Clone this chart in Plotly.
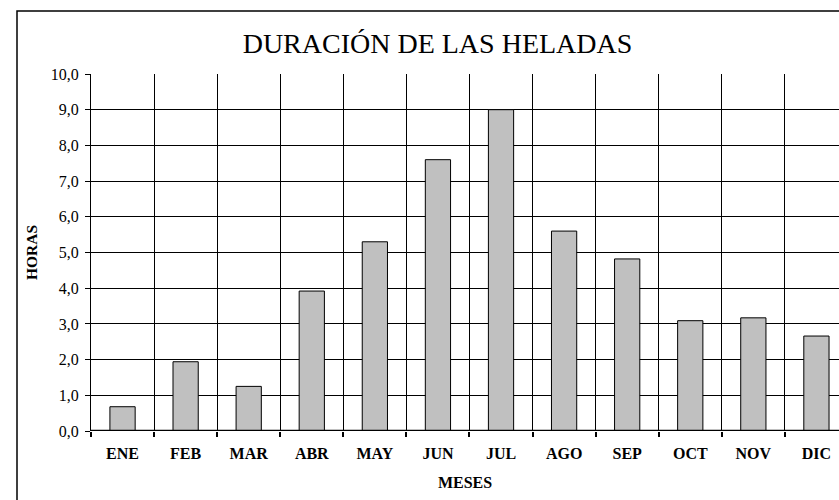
import plotly.graph_objects as go

months = ["ENE", "FEB", "MAR", "ABR", "MAY", "JUN", "JUL", "AGO", "SEP", "OCT", "NOV", "DIC"]
hours = [0.68, 1.94, 1.25, 3.92, 5.3, 7.6, 9.0, 5.6, 4.82, 3.09, 3.17, 2.66]
y_ticks = [0, 1, 2, 3, 4, 5, 6, 7, 8, 9, 10]

W, H = 839, 500
L, T, B = 91, 74, 69
pw = W - L
ph = H - T - B
cat_w = 63.08
x_end = -0.5 + pw / cat_w

xs = list(range(len(months)))

fig = go.Figure()
fig.add_trace(go.Bar(
    x=xs, y=hours, width=0.4,
    marker=dict(color="#C0C0C0", line=dict(color="black", width=1)),
    hoverinfo="skip",
))

font_serif = "Liberation Serif, Times New Roman, serif"

fig.update_layout(
    width=W, height=H,
    margin=dict(l=L, r=0, t=T, b=B, pad=0),
    paper_bgcolor="white", plot_bgcolor="white",
    separators=",.",
    showlegend=False,
    font=dict(family=font_serif, color="black"),
    xaxis=dict(
        range=[-0.5, x_end],
        tickmode="array", tickvals=xs, ticktext=months,
        ticks="", showgrid=False, zeroline=False,
        tickfont=dict(family=font_serif, size=16, color="black", weight="bold"),
        ticklabelstandoff=11,
        showline=False,
        minor=dict(tickmode="linear", tick0=-0.5, dtick=1, showgrid=True,
                   gridcolor="black", gridwidth=1, ticks="outside",
                   ticklen=5, tickwidth=2, tickcolor="black"),
        title=dict(text="<b>MESES</b>", font=dict(family=font_serif, size=16, color="black"), standoff=15),
        fixedrange=True,
    ),
    yaxis=dict(
        range=[0, 10],
        tickmode="array", tickvals=y_ticks,
        tickformat=".1f",
        ticks="outside", ticklen=5, tickwidth=1, tickcolor="black",
        ticklabelstandoff=3,
        showgrid=True, gridcolor="black", gridwidth=1,
        zeroline=False,
        showline=True, linecolor="black", linewidth=1,
        tickfont=dict(family=font_serif, size=16, color="black"),
        title=dict(text="<b>HORAS</b>", font=dict(family=font_serif, size=15.5, color="black"), standoff=9),
        fixedrange=True,
    ),
    title=dict(
        text="DURACIÓN DE LAS HELADAS",
        font=dict(family=font_serif, size=28, color="black"),
        x=(437.5 - L) / pw, xref="paper", xanchor="center",
        y=1 - 43 / H, yref="container", yanchor="middle",
    ),
)

# thick x-axis baseline
fig.add_shape(type="line", xref="paper", yref="y", x0=0, x1=1, y0=0, y1=0,
              line=dict(color="black", width=2.5), layer="above")
# outer chart border
fig.add_shape(type="rect", xref="paper", yref="paper",
              x0=(17 - L) / pw, x1=1.5, y0=-0.5, y1=1 + (T - 11) / ph,
              line=dict(color="black", width=1.5), layer="below")

fig.write_html("out.html", config={"displayModeBar": False, "staticPlot": True},
               post_script="document.body.style.margin='0';document.body.style.overflow='hidden';")
